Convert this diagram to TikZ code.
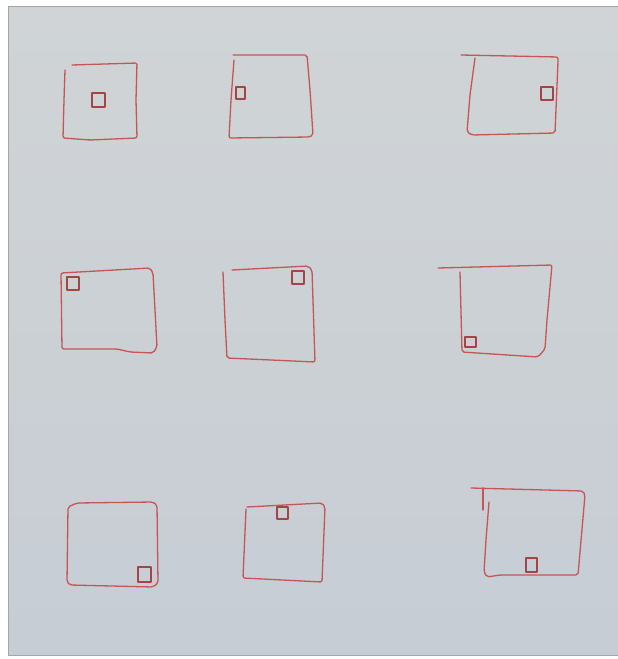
\documentclass[tikz,border=0pt]{standalone}
\usepackage{xcolor}
\usepackage{tikz}
\definecolor{ink}{RGB}{196,86,84}
\definecolor{inkdark}{RGB}{165,68,68}
\definecolor{boardtop}{RGB}{208,212,214}
\definecolor{boardmid}{RGB}{221,213,214}
\definecolor{boardbot}{RGB}{199,205,213}
\tikzstyle{pen} = [draw=ink, line width=1.3pt, line join=round, line cap=round,
           rounded corners=2pt]
\tikzstyle{dot} = [draw=inkdark, line width=1.6pt, line join=round]

\begin{document}
\begin{tikzpicture}[x=1pt, y=-1pt]
\useasboundingbox (0,0) rectangle (618,659);
% photo of the board
\fill[white] (0,0) rectangle (618,659);
\shade[top color=boardtop, middle color=boardmid, bottom color=boardbot]
   (8,6) rectangle (618,655);
\draw[gray!70, line width=0.8pt] (8,6) rectangle (618,655);

% first row
\draw[pen] (72,65) -- (137,63) -- (136,100) -- (137,138) -- (90,140) -- (63,138)
   -- (64,100) -- (65,70);
\draw[dot] (92,93) rectangle (105,107);
\draw[pen] (233,55) -- (307,55) -- (310,90) -- (313,135) -- (310,137) -- (229,138)
   -- (231,100) -- (234,60);
\draw[dot] (236,87) rectangle (245,99);
\draw[pen] (461,55) -- (558,57) -- (558,62) -- (555,133) -- (472,135) -- (467,132)
   -- (470,95) -- (475,58);
\draw[dot] (541,87) rectangle (553,100);

% second row
\draw[pen] (61,273) -- (150,268) -- (153,273) -- (157,347) -- (153,353) -- (130,352)
   -- (117,349) -- (62,349) -- cycle;
\draw[dot] (67,277) rectangle (79,290);
\draw[pen] (232,270) -- (308,266) -- (312,270) -- (315,362) -- (227,358) -- (225,320)
   -- (223,272);
\draw[dot] (292,271) rectangle (304,284);
\draw[pen] (438,268) -- (552,265) -- (547,320) -- (545,349) -- (538,357) -- (462,352)
   -- (460,272);
\draw[dot] (465,337) rectangle (476,347);

% third row
\draw[pen] (68,507) -- (77,503) -- (153,502) -- (157,505) -- (158,583) -- (153,587)
   -- (70,585) -- (67,582) -- cycle;
\draw[dot] (138,567) rectangle (151,582);
\draw[pen] (247,507) -- (322,503) -- (325,507) -- (322,582) -- (243,578) -- (246,509);
\draw[dot] (277,507) rectangle (288,519);
\draw[pen] (471,488) -- (583,491) -- (585,495) -- (578,575) -- (500,575) -- (487,577)
   -- (484,572) -- (486,540) -- (489,502);
\draw[pen] (483,488) -- (483,510);
\draw[dot] (526,558) rectangle (537,572);
\end{tikzpicture}
\end{document}
